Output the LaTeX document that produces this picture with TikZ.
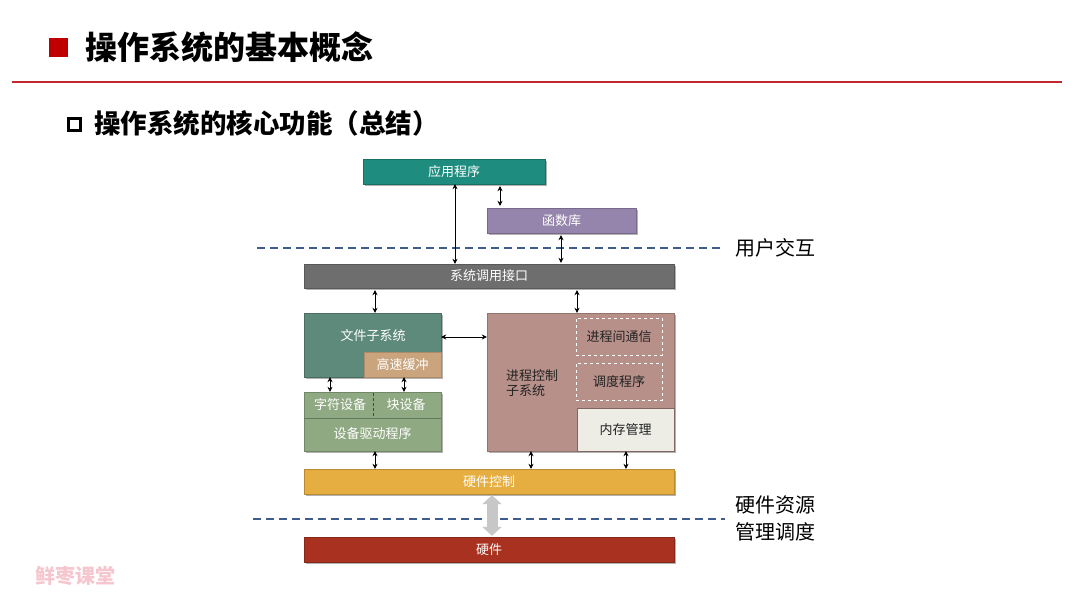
\documentclass[tikz,border=0pt]{standalone}
\usepackage{fontspec}
\setmainfont{Noto Sans CJK SC}
\newfontfamily\cjk{Noto Sans CJK SC}
\usetikzlibrary{arrows.meta,shadows}
\definecolor{appc}{HTML}{1E8C7E}
\definecolor{libc}{HTML}{9585AC}
\definecolor{scic}{HTML}{6E6E6E}
\definecolor{fsc}{HTML}{5E8A7B}
\definecolor{cachec}{HTML}{C9A47C}
\definecolor{devc}{HTML}{8FA982}
\definecolor{procc}{HTML}{B8908A}
\definecolor{memc}{HTML}{EDEDE5}
\definecolor{hwcc}{HTML}{E6AE40}
\definecolor{hwc}{HTML}{A8321F}
\definecolor{dashc}{HTML}{3E5C8E}
\definecolor{titlered}{HTML}{C00000}
\definecolor{linered}{HTML}{C0282E}
\definecolor{wmark}{HTML}{F6C6CE}
\definecolor{txtdark}{HTML}{222222}
\begin{document}
\begin{tikzpicture}[x=1pt,y=-1pt,
  blk/.style={rectangle, inner sep=0pt, font=\cjk\fontsize{13}{15}\selectfont, text=white,
    drop shadow={shadow xshift=1.5pt, shadow yshift=-1.5pt, opacity=0.3, fill=black}},
  innerbox/.style={rectangle, inner sep=0pt, font=\cjk\fontsize{13}{15}\selectfont},
  lbl/.style={inner sep=0pt, font=\cjk\fontsize{13}{15}\selectfont},
  arr/.style={{Stealth[length=5pt,width=5pt]}-{Stealth[length=5pt,width=5pt]}, line width=0.7pt, black},
  sep/.style={dashc, line width=1.4pt, dash pattern=on 8pt off 5pt},
  side/.style={inner sep=0pt, font=\cjk\fontsize{20}{27}\selectfont, align=left, text=black}
]
\useasboundingbox (0,0) rectangle (1080,608);
\fill[white] (0,0) rectangle (1080,608);

% title
\node[rectangle, fill=titlered, minimum width=19pt, minimum height=19pt, inner sep=0pt] (tsq) at (58.5,47.5) {};
\node[anchor=west, inner sep=0pt, font=\cjk\bfseries\fontsize{32}{34}\selectfont] (title) at (85,47.5) {操作系统的基本概念};
\draw[linered, line width=1.5pt] (12,82) -- (1062,82);
\node[rectangle, draw=black, line width=2.6pt, minimum width=11.5pt, minimum height=11.5pt, inner sep=0pt] (ssq) at (74.5,124.5) {};
\node[anchor=west, inner sep=0pt, font=\cjk\bfseries\fontsize{26.5}{28}\selectfont] (sub) at (94,123.5) {操作系统的核心功能（总结）};

% boxes
\node[blk, fill=appc, draw=appc!80!black, minimum width=182pt, minimum height=25pt] (app) at (454,171.5) {应用程序};
\node[blk, fill=libc, draw=libc!80!black, minimum width=149pt, minimum height=25pt] (lib) at (561.5,220.5) {函数库};
\node[blk, fill=scic, draw=scic!80!black, minimum width=370pt, minimum height=24pt] (sci) at (489,276) {系统调用接口};

\node[blk, fill=fsc, draw=fsc!80!black, minimum width=137pt, minimum height=64pt] (fs) at (372.5,345) {};
\node[lbl, text=white] (fst) at (373,336) {文件子系统};
\node[innerbox, fill=cachec, draw=cachec!85!black, text=white, minimum width=77pt, minimum height=25pt] (cache) at (402.5,364.5) {高速缓冲};

\node[blk, fill=devc, draw=devc!80!black, minimum width=137pt, minimum height=59pt] (dev) at (372.5,421.5) {};
\draw[devc!70!black, line width=0.6pt] (dev.west |- 0,418) -- (dev.east |- 0,418);
\draw[devc!45!black, line width=0.7pt, dash pattern=on 3pt off 2pt] (373,393) -- (373,417);
\node[lbl, text=white] (chr) at (340,405) {字符设备};
\node[lbl, text=white] (blkd) at (406,405) {块设备};
\node[lbl, text=white] (drv) at (372.5,434) {设备驱动程序};

\node[blk, fill=procc, draw=procc!80!black, minimum width=187pt, minimum height=138pt] (proc) at (580.5,382) {};
\node[lbl, text=txtdark, align=left, anchor=west] (proct) at (506,383) {进程控制\\子系统};
\node[innerbox, draw=white, line width=0.9pt, dashed, text=txtdark, minimum width=86pt, minimum height=37pt] (ipc) at (619,336.5) {进程间通信};
\node[innerbox, draw=white, line width=0.9pt, dashed, text=txtdark, minimum width=86pt, minimum height=37pt] (sched) at (619,381.5) {调度程序};
\node[innerbox, fill=memc, draw=procc!70!black, text=txtdark, minimum width=97pt, minimum height=43pt] (mem) at (625.5,429.5) {内存管理};

\node[blk, fill=hwcc, draw=hwcc!80!black, minimum width=370pt, minimum height=25pt] (hwctl) at (489,481.5) {硬件控制};
\node[blk, fill=hwc, draw=hwc!80!black, minimum width=370pt, minimum height=25pt] (hw) at (489,549.5) {硬件};

% dashed separators
\coordinate (d1a) at (257,248);
\coordinate (d1b) at (721,248);
\coordinate (d2a) at (253,519);
\coordinate (d2b) at (725,519);
\draw[sep] (d1a) -- (d1b);
\draw[sep] (d2a) -- (d2b);
\node[side, anchor=west] (ui) at (735,248) {用户交互};
\node[side, anchor=west] (hrm) at (735,518.5) {硬件资源\\管理调度};

% arrows
\draw[arr] (app.south -| 455,0) -- (sci.north -| 455,0);
\draw[arr] ([yshift=-2pt]app.south -| 500,0) -- ([yshift=2pt]lib.north -| 500,0);
\draw[arr] ([yshift=-2pt]lib.south -| 561,0) -- ([yshift=1pt]sci.north -| 561,0);
\draw[arr] ([yshift=-2pt]sci.south -| 375,0) -- (fs.north -| 375,0);
\draw[arr] ([yshift=-2pt]sci.south -| 577,0) -- (proc.north -| 577,0);
\draw[arr] (fs.east |- 0,337) -- (proc.west |- 0,337);
\draw[arr] (fs.south -| 330,0) -- (dev.north -| 330,0);
\draw[arr] (cache.south -| 404,0) -- (dev.north -| 404,0);
\draw[arr] (dev.south -| 375,0) -- (hwctl.north -| 375,0);
\draw[arr] (proc.south -| 531,0) -- (hwctl.north -| 531,0);
\draw[arr] (proc.south -| 626,0) -- (hwctl.north -| 626,0);
\draw[{Triangle[length=9pt,width=19pt]}-{Triangle[length=9pt,width=19pt]}, line width=11pt, color=black!22]
  ([yshift=-1pt]hwctl.south -| 492,0) -- ([yshift=1pt]hw.north -| 492,0);

% watermark
\node[anchor=west, inner sep=0pt, text=wmark, font=\cjk\bfseries\fontsize{20}{22}\selectfont] (wm) at (35,576) {鲜枣课堂};
\end{tikzpicture}
\end{document}
